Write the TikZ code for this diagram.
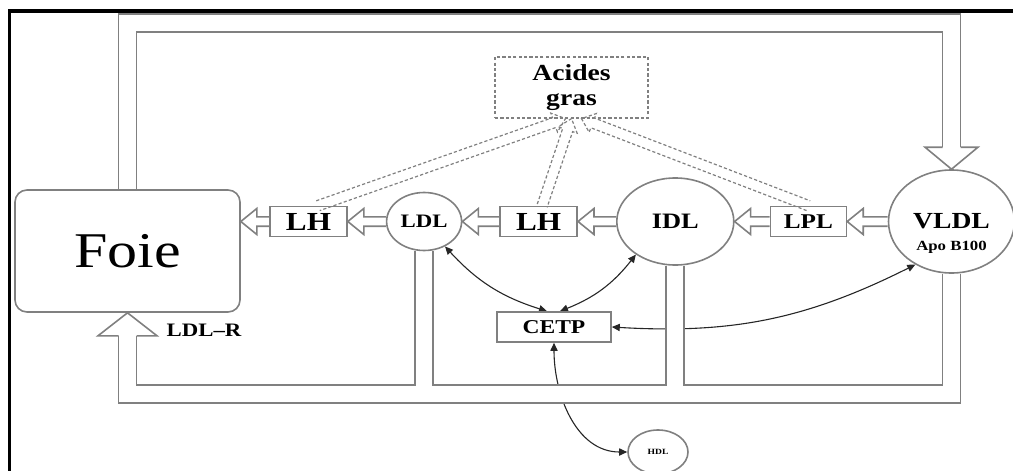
\documentclass[tikz,border=0pt]{standalone}
\usepackage{fontspec}
\setmainfont{Liberation Serif}[FakeStretch=1.2]
\usepackage{tikz}
\usetikzlibrary{positioning,arrows.meta,calc,backgrounds,shapes.geometric}
\colorlet{wallgray}{black!50}
\tikzset{
  hollow/.style n args={3}{to path={
    let \p1=(\tikztostart), \p2=(\tikztotarget),
        \n1={atan2(\y2-\y1,\x2-\x1)}, \n2={veclen(\x2-\x1,\y2-\y1)-#3}, \n3={#2-#1} in
    ($(\p1)+(\n1+90:#1)$) -- ++(\n1:\n2) -- ++(\n1+90:\n3) -- (\p2)
    -- ($(\p1)+(\n1:\n2)+(\n1-90:#2)$) -- ++(\n1+90:\n3) -- ($(\p1)+(\n1-90:#1)$)}},
  wall/.style={draw=wallgray, line width=0.8pt, line join=miter},
  flow/.style={wall, hollow={2.35pt}{6.5pt}{8pt}},
  release/.style={draw=wallgray, line width=0.6pt, dash pattern=on 1.6pt off 1.1pt, hollow={2.6pt}{5pt}{6pt}},
  channel/.style={draw=wallgray, line width=0.9pt, double=white, double distance=8.1pt},
  link/.style={{Triangle[length=4pt,width=3.6pt]}-{Triangle[length=4pt,width=3.6pt]}, line width=0.55pt, draw=black!85},
  lipo/.style={wall, ellipse, inner sep=0pt},
  enz/.style={wall, rectangle, inner sep=0pt, minimum height=15pt},
}

\begin{document}
\begin{tikzpicture}[x=0.5pt, y=-0.5pt]
  \useasboundingbox (0,0) rectangle (1013,471);
  \draw[line width=1.8pt] (9.5,471) -- (9.5,11) -- (1013,11);
  \node[lipo, minimum width=63pt, minimum height=51.5pt, font=\bfseries\fontsize{11.5}{12}\selectfont] (vldl) at (951.5,221.5) {VLDL};
  \node[font=\bfseries\fontsize{7}{8}\selectfont] (apo) at ([yshift=-13pt]vldl.center) {Apo B100};
  \node[enz, minimum width=38pt, left=20.25pt of vldl, font=\bfseries\fontsize{10.5}{11}\selectfont] (lpl) {LPL};
  \node[lipo, minimum width=58.5pt, minimum height=43.5pt, left=17.5pt of lpl, font=\bfseries\fontsize{11}{12}\selectfont] (idl) {IDL};
  \node[enz, minimum width=38.5pt, left=19pt of idl, font=\bfseries\fontsize{13}{13}\selectfont] (lh2) {LH};
  \node[lipo, minimum width=37.5pt, minimum height=29pt, left=18.5pt of lh2, font=\bfseries\fontsize{9.5}{10}\selectfont] (ldl) {LDL};
  \node[enz, minimum width=38.5pt, left=19pt of ldl, font=\bfseries\fontsize{13}{13}\selectfont] (lh1) {LH};
  \node[wall, rounded corners=6pt, minimum width=112.5pt, minimum height=61pt, font=\fontsize{25}{25}\selectfont] (foie) at (127.5,251) {Foie};
  \node[draw=wallgray, line width=0.6pt, dash pattern=on 1.6pt off 1.1pt, minimum width=76.5pt, minimum height=30.5pt, inner sep=0pt, align=center, font=\bfseries\fontsize{11.5}{12.5}\selectfont] (acides) at (571.5,87.5) {Acides\\gras};
  \node[enz, minimum width=57pt, font=\bfseries\fontsize{9.8}{10}\selectfont] (cetp) at (554,327) {CETP};
  \node[lipo, minimum width=30pt, minimum height=22pt, font=\bfseries\fontsize{4}{4}\selectfont] (hdl) at (658,452) {HDL};
  \node[font=\bfseries\fontsize{9.5}{10}\selectfont] (ldlrtxt) at (204,330.5) {LDL–R};
  \coordinate (floor) at (0,394);
  \coordinate (roof) at (0,23);
  \coordinate (ldlr) at ([yshift=-11.5pt]foie.south);
  \coordinate (vtop) at ([yshift=11pt]vldl.north);
  \draw[flow] (vldl.west) to (lpl.east);
  \draw[flow] (lpl.west) to (idl.east);
  \draw[flow] (idl.west) to (lh2.east);
  \draw[flow] (lh2.west) to (ldl.east);
  \draw[flow] (ldl.west) to (lh1.east);
  \draw[flow] (lh1.west) to (lh1.west -| foie.east);
  \draw[wall, hollow={4.5pt}{13.25pt}{11pt}] (vtop) to (vldl.north);
  \draw[wall, hollow={4.5pt}{14.75pt}{11.5pt}] (ldlr) to (foie.south);
  \draw[release] ([xshift=4.75pt]lh1.north) to ([xshift=-3pt]acides.south);
  \draw[release] ([xshift=1.75pt]lh2.north) to (acides.south);
  \draw[release] (lpl.north) to ([xshift=5pt]acides.south);
  \begin{scope}[on background layer]
    \draw[link] ([xshift=-3.5pt]cetp.north) to[bend left=15] (ldl.-50);
    \draw[link] ([xshift=3pt]cetp.north) to[bend right=15] (idl.-140);
    \draw[link] (cetp.east) to[bend right=15] (vldl.-130);
    \draw[link] (cetp.south) to[out=-90, in=180] (hdl.west);
    \draw[channel] (foie.north) -- (foie.north |- roof) -- (vtop |- roof) -- (vtop);
    \draw[channel] (vldl.south) -- (vldl.south |- floor) -- (ldlr |- floor) -- (ldlr);
    \draw[channel] (idl.south) -- (idl.south |- floor);
    \draw[channel] (ldl.south) -- (ldl.south |- floor);
    \draw[white, line width=8.1pt] (ldlr |- floor) -- (vldl.south |- floor);
  \end{scope}
\end{tikzpicture}
\end{document}
